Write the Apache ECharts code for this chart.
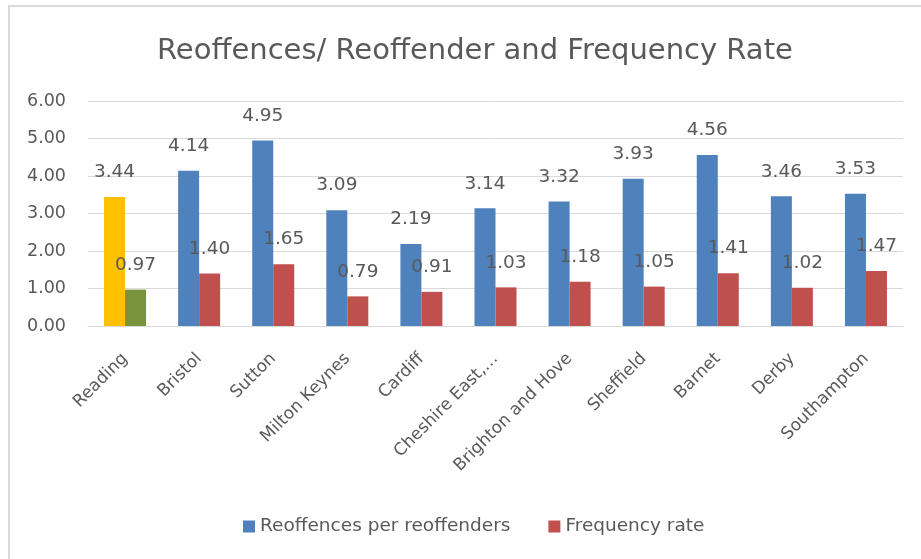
<!DOCTYPE html>
<html>
<head>
<meta charset="utf-8">
<script src="https://cdn.jsdelivr.net/npm/echarts@6/dist/echarts.min.js"></script>
<style>
  html, body { margin: 0; padding: 0; background: #fff; }
  #chart { width: 921px; height: 559px; }
</style>
</head>
<body>
<div id="chart"></div>
<script>
// Reoffending figures per area
const categories = ['Reading', 'Bristol', 'Sutton', 'Milton Keynes', 'Cardiff', 'Cheshire East,\u2026',
  'Brighton and Hove', 'Sheffield', 'Barnet', 'Derby', 'Southampton'];
const reoffencesPerReoffender = [3.44, 4.14, 4.95, 3.09, 2.19, 3.14, 3.32, 3.93, 4.56, 3.46, 3.53];
const frequencyRate = [0.97, 1.40, 1.65, 0.79, 0.91, 1.03, 1.18, 1.05, 1.41, 1.02, 1.47];
const yTicks = { min: 0, max: 6, interval: 1 };

const BLUE = '#4F81BD', RED = '#C0504D', GOLD = '#FFC000', GREEN = '#77933C';
const TEXT = '#595959', FONT = '"DejaVu Sans", "Noto Sans", sans-serif';

// Reading is highlighted with its own colours
function withHighlight(values, highlightColor) {
  return values.map((v, i) => i === 0 ? { value: v, itemStyle: { color: highlightColor } } : v);
}

const labelStyle = {
  show: true, position: 'top', distance: 15,
  color: TEXT, fontFamily: FONT, fontSize: 18.5,
  formatter: p => Number(p.value).toFixed(2)
};

const chart = echarts.init(document.getElementById('chart'), null, { renderer: 'canvas' });
chart.setOption({
  backgroundColor: '#fff',
  animation: false,
  title: {
    text: 'Reoffences/ Reoffender and Frequency Rate',
    left: 152, top: 32,
    textStyle: { color: TEXT, fontFamily: FONT, fontSize: 29, fontWeight: 'normal' }
  },
  graphic: [
    { type: 'line', shape: { x1: 8, y1: 6, x2: 921, y2: 6 }, style: { stroke: '#D9D9D9', lineWidth: 2 } },
    { type: 'line', shape: { x1: 9, y1: 6, x2: 9, y2: 559 }, style: { stroke: '#D9D9D9', lineWidth: 2 } }
  ],
  legend: {
    left: 238, top: 512,
    itemWidth: 12, itemHeight: 12, itemGap: 38,
    icon: 'rect',
    textStyle: { color: TEXT, fontFamily: FONT, fontSize: 18.5 },
    data: [
      { name: 'Reoffences per reoffenders', itemStyle: { color: BLUE } },
      { name: 'Frequency rate', itemStyle: { color: RED } }
    ]
  },
  grid: { left: 88, right: 18, top: 101, bottom: 233, containLabel: false },
  xAxis: {
    type: 'category',
    data: categories,
    axisLine: { lineStyle: { color: '#D9D9D9', width: 1 } },
    axisTick: { show: false },
    axisLabel: { rotate: 45, interval: 0, margin: 30, color: TEXT, fontFamily: FONT, fontSize: 17 }
  },
  yAxis: {
    type: 'value',
    min: yTicks.min, max: yTicks.max, interval: yTicks.interval,
    axisLine: { show: false },
    axisTick: { show: false },
    splitLine: { lineStyle: { color: '#D9D9D9', width: 1 } },
    axisLabel: { margin: 22, color: TEXT, fontFamily: FONT, fontSize: 17.5, formatter: v => v.toFixed(2) }
  },
  series: [
    {
      name: 'Reoffences per reoffenders', type: 'bar',
      data: withHighlight(reoffencesPerReoffender, GOLD),
      itemStyle: { color: BLUE },
      barWidth: 21, barGap: '0%',
      label: labelStyle
    },
    {
      name: 'Frequency rate', type: 'bar',
      data: withHighlight(frequencyRate, GREEN),
      itemStyle: { color: RED },
      barWidth: 21, barGap: '0%',
      label: labelStyle
    }
  ]
});
</script>
</body>
</html>
